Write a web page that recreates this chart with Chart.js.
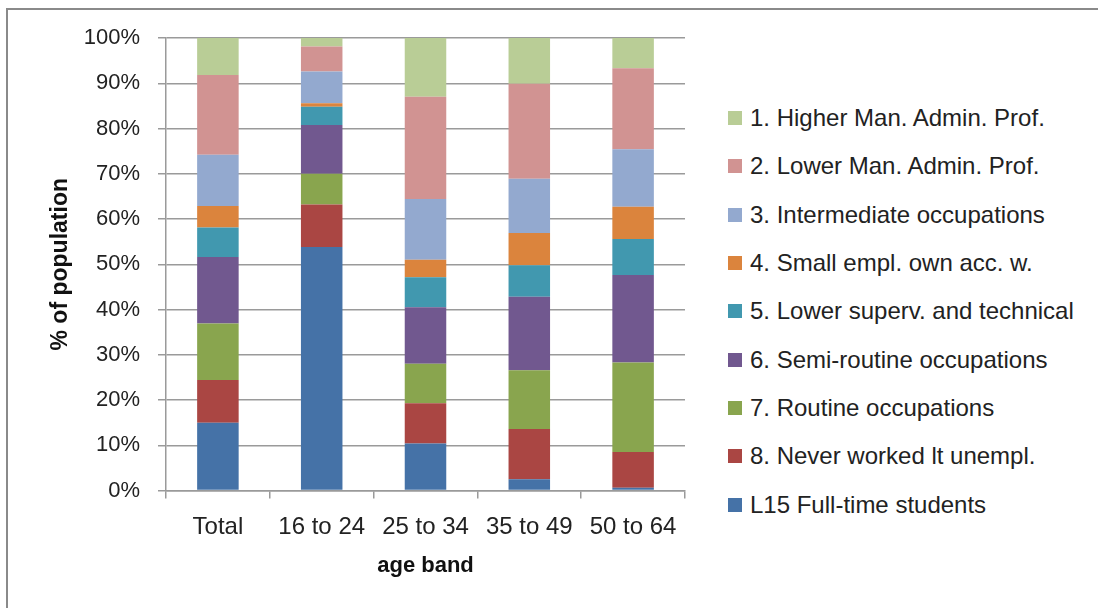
<!DOCTYPE html>
<html lang="en">
<head>
  <meta charset="UTF-8" />
  <title>Occupation by age band</title>
  <script src="https://cdn.jsdelivr.net/npm/chart.js"></script>
  <style>
    body {
      margin: 0;
      background: #fff;
      font-family: "Liberation Sans", Arial, sans-serif;
      overflow: hidden;
    }
    .frame {
      position: absolute;
      left: 6px;
      top: 8px;
      width: 1200px;
      height: 700px;
      border-top: 2px solid #8a8a8a;
      border-left: 2px solid #8a8a8a;
    }
    .chart-box {
      position: absolute;
      left: 0;
      top: 0;
      width: 700px;
      height: 608px;
    }
    .legend {
      position: absolute;
      left: 728px;
      top: 94px;
    }
    .legend div {
      display: flex;
      align-items: center;
      height: 48.3px;
      font-size: 24px;
      color: #222;
      white-space: nowrap;
    }
    .legend span {
      display: inline-block;
      width: 14px;
      height: 14px;
      margin-right: 8px;
    }
  </style>
</head>
<body>

<div class="frame"></div>
<div class="chart-box"><canvas id="ageChart"></canvas></div>
<div class="legend" id="legend"></div>

<script>
  // age bands on the x axis
  const bands = ['Total', '16 to 24', '25 to 34', '35 to 49', '50 to 64'];

  // % of population in each class, bottom of the stack first
  const students    = [15.0, 53.8, 10.4,  2.5,  0.6];
  const neverWorked = [ 9.4,  9.4,  8.9, 11.1,  7.9];
  const routine     = [12.5,  6.8,  8.7, 13.0, 19.8];
  const semiRoutine = [14.7, 10.8, 12.5, 16.2, 19.3];
  const lowerSuperv = [ 6.5,  4.0,  6.6,  7.0,  8.0];
  const smallEmpl   = [ 4.8,  0.8,  3.9,  7.1,  7.1];
  const intermed    = [11.3,  7.0, 13.4, 12.0, 12.7];
  const lowerMan    = [17.6,  5.5, 22.6, 21.0, 17.9];
  const higherMan   = [ 8.2,  1.9, 13.0, 10.2,  6.7];

  const seriesNames = [
    'L15 Full-time students',
    '8. Never worked lt unempl.',
    '7. Routine occupations',
    '6. Semi-routine occupations',
    '5. Lower superv. and technical',
    '4. Small empl. own acc. w.',
    '3. Intermediate occupations',
    '2. Lower Man. Admin. Prof.',
    '1. Higher Man. Admin. Prof.'
  ];
  const seriesValues = [students, neverWorked, routine, semiRoutine, lowerSuperv,
                        smallEmpl, intermed, lowerMan, higherMan];
  const seriesColors = ['#4572A7', '#AA4643', '#89A54E', '#71588F', '#4198AF',
                        '#DB843D', '#93A9CF', '#D19392', '#B9CD96'];

  const yTicks = [0, 10, 20, 30, 40, 50, 60, 70, 80, 90, 100];

  const fontFamily = '"Liberation Sans", Arial, sans-serif';
  const gridColor = '#9a9a9a';

  new Chart(document.getElementById('ageChart'), {
    type: 'bar',
    data: {
      labels: bands,
      datasets: seriesValues.map((vals, i) => ({
        label: seriesNames[i],
        data: vals,
        backgroundColor: seriesColors[i],
        borderWidth: 0,
        categoryPercentage: 1,
        barPercentage: 0.4
      }))
    },
    options: {
      responsive: true,
      maintainAspectRatio: false,
      animation: false,
      layout: { padding: { left: 43, top: 38, right: 15, bottom: 27 } },
      plugins: {
        legend: { display: false },
        tooltip: { enabled: false }
      },
      scales: {
        x: {
          stacked: true,
          afterFit: axis => { axis.height = 90.5; },
          grid: {
            drawOnChartArea: false,
            drawTicks: true,
            tickLength: 8,
            color: gridColor,
            lineWidth: 1.5
          },
          border: { color: gridColor, width: 1.5 },
          ticks: {
            color: '#222',
            padding: 14,
            maxRotation: 0,
            font: { family: fontFamily, size: 24 }
          },
          title: {
            display: true,
            text: 'age band',
            color: '#111',
            padding: { top: 14, bottom: 2 },
            font: { family: fontFamily, size: 22, weight: 'bold' }
          }
        },
        y: {
          stacked: true,
          min: 0,
          max: 100,
          afterBuildTicks: axis => { axis.ticks = yTicks.map(v => ({ value: v })); },
          afterFit: axis => { axis.width = 123; },
          grid: {
            drawTicks: true,
            tickLength: 8,
            color: gridColor,
            lineWidth: 1.5
          },
          border: { color: gridColor, width: 1.5 },
          ticks: {
            color: '#222',
            padding: 18,
            font: { family: fontFamily, size: 22 },
            callback: v => v + '%'
          },
          title: {
            display: true,
            text: '% of population',
            color: '#111',
            padding: { top: 4, bottom: 4 },
            font: { family: fontFamily, size: 23, weight: 'bold' }
          }
        }
      }
    }
  });

  // legend on the right, top entry is the last series
  const legend = document.getElementById('legend');
  for (let i = seriesNames.length - 1; i >= 0; i--) {
    const row = document.createElement('div');
    row.innerHTML = `<span style="background:${seriesColors[i]}"></span>${seriesNames[i]}`;
    legend.appendChild(row);
  }
</script>
</body>
</html>
